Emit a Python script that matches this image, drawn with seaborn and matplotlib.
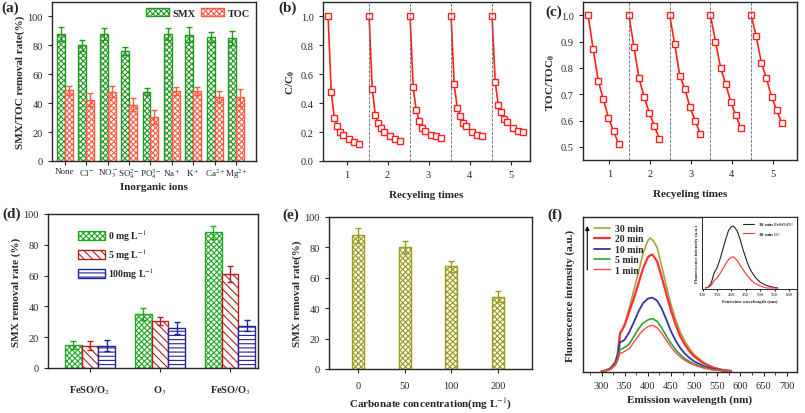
import numpy as np
import pandas as pd
import matplotlib
matplotlib.use("Agg")
import matplotlib.pyplot as plt
from matplotlib.container import BarContainer
import seaborn as sns

# (a) effect of inorganic ions
ions = ["None", "Cl$^-$", "NO$_3^-$", "SO$_4^{2-}$", "PO$_4^{3-}$",
        "Na$^+$", "K$^+$", "Ca$^{2+}$", "Mg$^{2+}$"]
smx_ions = [88, 80, 88, 76, 48, 88, 87.5, 85.5, 85]
smx_ions_err = [5, 4, 4, 3, 2.5, 4, 5.5, 3.5, 5]
toc_ions = [49, 42.5, 48, 39, 30.5, 48.5, 48.5, 44.5, 44]
toc_ions_err = [3, 4.5, 4, 4.5, 5, 3, 2.5, 4, 6]

# (b) SMX recycling, C/C0 vs time in each run
cycles = ["1", "2", "3", "4", "5"]
run_times = [0, 3, 6, 9, 12, 15, 20, 25, 30]
smx_runs = [
    [1.0, 0.48, 0.30, 0.24, 0.20, 0.18, 0.15, 0.13, 0.12],
    [1.0, 0.50, 0.32, 0.26, 0.23, 0.20, 0.17, 0.15, 0.14],
    [1.0, 0.51, 0.35, 0.28, 0.23, 0.21, 0.18, 0.17, 0.16],
    [1.0, 0.53, 0.37, 0.31, 0.26, 0.24, 0.20, 0.18, 0.17],
    [1.0, 0.55, 0.39, 0.34, 0.29, 0.27, 0.23, 0.21, 0.20],
]

# (c) TOC recycling
toc_steps = [0, 1, 2, 3, 4, 5, 6]
toc_runs = [
    [1.0, 0.87, 0.75, 0.68, 0.61, 0.56, 0.51],
    [1.0, 0.88, 0.76, 0.69, 0.63, 0.58, 0.53],
    [1.0, 0.89, 0.77, 0.72, 0.65, 0.60, 0.55],
    [1.0, 0.90, 0.80, 0.74, 0.67, 0.62, 0.57],
    [1.0, 0.92, 0.82, 0.76, 0.69, 0.64, 0.59],
]

# (d) scavenger dose in different systems
systems = ["FeSO/O$_2$", "O$_3$", "FeSO/O$_3$"]
doses = ["0 mg L$^{-1}$", "5 mg L$^{-1}$", "100mg L$^{-1}$"]
dose_rates = [[15, 35, 88], [14.5, 30.5, 61], [14.5, 26, 27.5]]
dose_errs = [[2.5, 4, 4], [3, 2.5, 5], [3.5, 4, 3.5]]

# (e) carbonate
carbonate = ["0", "50", "100", "200"]
carb_rates = [88, 80, 67.5, 47.5]
carb_errs = [5, 4, 3.5, 3.5]

# (f) fluorescence spectra
wavelength = [300, 310, 320, 330, 335, 340, 345, 350, 360, 370, 380, 390, 400, 405,
              410, 420, 430, 440, 450, 460, 470, 480, 490, 500, 520, 540, 560, 580]
fl_times = ["30 min", "20 min", "10 min", "5 min", "1 min"]
fl_30 = [0, 3, 10, 28, 50, 112, 125, 138, 190, 245, 300, 355, 392, 400,
         395, 372, 315, 255, 200, 155, 118, 90, 68, 50, 27, 13, 5, 1]
fl_20 = [0, 3, 10, 28, 52, 115, 125, 140, 180, 220, 265, 310, 342, 348,
         350, 330, 282, 232, 182, 140, 105, 80, 60, 45, 24, 11, 4, 1]
fl_10 = [0, 2, 8, 24, 48, 88, 90, 95, 118, 148, 180, 205, 218, 220,
         221, 212, 188, 155, 120, 92, 70, 53, 40, 30, 16, 7, 3, 0]
fl_5 = [0, 2, 7, 20, 38, 66, 68, 72, 82, 105, 128, 145, 154, 157,
        158, 150, 130, 106, 84, 65, 50, 38, 29, 22, 12, 5, 2, 0]
fl_1 = [0, 2, 6, 18, 33, 55, 56, 60, 68, 88, 108, 124, 134, 137,
        138, 131, 114, 93, 73, 56, 43, 33, 25, 19, 10, 4, 2, 0]
inset_wl = [310, 320, 330, 335, 340, 350, 360, 370, 380, 390, 400, 405, 410,
            420, 430, 440, 450, 460, 470, 480, 490, 500, 520, 540, 560]
inset_feso = [0, 3, 15, 30, 45, 60, 85, 115, 145, 172, 183, 185, 182,
              170, 145, 115, 88, 65, 48, 35, 25, 17, 8, 3, 0]
inset_o3 = [0, 2, 8, 15, 22, 30, 42, 57, 72, 85, 92, 93, 91,
            82, 68, 55, 42, 32, 22, 15, 10, 6, 0, 0, 0]

sns.set_style("ticks")
plt.rcParams["font.family"] = ["Liberation Serif", "DejaVu Serif"]
plt.rcParams["mathtext.fontset"] = "stix"
plt.rcParams["hatch.linewidth"] = 0.8
plt.rcParams["axes.linewidth"] = 1.0
plt.rcParams["xtick.labelsize"] = 7.5
plt.rcParams["ytick.labelsize"] = 7.5
plt.rcParams["xtick.major.size"] = 3
plt.rcParams["ytick.major.size"] = 3

W, H = 805, 414
fig = plt.figure(figsize=(W / 100, H / 100), dpi=100)


def add_px_axes(l, t, r, b):
    return fig.add_axes([l / W, 1 - b / H, (r - l) / W, (b - t) / H])


def style_bars(ax, colors, hatches, errs):
    bars = [c for c in ax.containers if isinstance(c, BarContainer)]
    for cont, col, hat, err in zip(bars, colors, hatches, errs):
        xs, ys = [], []
        for bar in cont:
            bar.set_facecolor("white")
            bar.set_edgecolor(col)
            bar.set_hatch(hat)
            bar.set_linewidth(1.0)
            xs.append(bar.get_x() + bar.get_width() / 2)
            ys.append(bar.get_height())
        ax.errorbar(xs, ys, yerr=err, fmt="none", ecolor=col, elinewidth=1,
                    capsize=2.5, capthick=1)
    return [c.patches[0] for c in bars]


bold = dict(fontsize=8, fontweight="bold")

# ---- (a)
ax = add_px_axes(52, 3, 256, 162)
df_a = pd.DataFrame({
    "ion": ions * 2,
    "rate": smx_ions + toc_ions,
    "kind": ["SMX"] * len(ions) + ["TOC"] * len(ions),
})
sns.barplot(data=df_a, x="ion", y="rate", hue="kind", order=ions,
            hue_order=["SMX", "TOC"], width=0.74, errorbar=None, legend=False, ax=ax)
handles = style_bars(ax, ["#1f9a1f", "#ff5a45"], ["xxxxxx", "xxxxxx"],
                     [smx_ions_err, toc_ions_err])
ax.legend(handles=handles, labels=["SMX", "TOC"],
          loc="upper right", ncol=2, frameon=False, handlelength=2.2, handleheight=0.8,
          handletextpad=0.3, columnspacing=0.6, borderaxespad=0.2,
          prop=dict(size=7.5, weight="bold"))
ax.set_xlim(-0.6, 8.93)
ax.set_ylim(0, 110)
ax.set_yticks([0, 20, 40, 60, 80, 100])
ax.tick_params(axis="x", labelsize=6.5, pad=1)
ax.set_xlabel("Inorganic ions", labelpad=1, **bold)
ax.set_ylabel("SMX/TOC removal rate(%)", labelpad=2, **bold)

# ---- (b)
ax = add_px_axes(323, 3, 530, 162)
df_b = pd.DataFrame([
    {"cycle": i, "x": i * 40 + t, "c": v}
    for i, run in enumerate(smx_runs) for t, v in zip(run_times, run)
])
sns.lineplot(data=df_b, x="x", y="c", units="cycle", estimator=None, color="#ff2020",
             lw=1.2, marker="s", markersize=4.2, markerfacecolor="white",
             markeredgecolor="#ff2020", markeredgewidth=1.0, ax=ax)
sns.scatterplot(data=df_b, x="x", y="c", color="#ff2020", s=1.5, linewidth=0, ax=ax)
for i in range(1, len(cycles)):
    ax.axvline(i * 40, color="#666666", ls="--", lw=0.6)
ax.set_xticks([i * 40 + 18 for i in range(len(cycles))], cycles)
ax.set_xlim(-5, 197)
ax.set_ylim(0, 1.1)
ax.set_yticks([0, 0.2, 0.4, 0.6, 0.8, 1.0], ["0.0", "0.2", "0.4", "0.6", "0.8", "1.0"])
ax.set_xlabel("Recyeling times", labelpad=8, **bold)
ax.set_ylabel(r"C/C$_\mathbf{0}$", labelpad=3, **bold)

# ---- (c)
ax = add_px_axes(583, 3, 797, 161)
df_c = pd.DataFrame([
    {"cycle": i, "x": i * 8 + s, "c": v}
    for i, run in enumerate(toc_runs) for s, v in zip(toc_steps, run)
])
sns.lineplot(data=df_c, x="x", y="c", units="cycle", estimator=None, color="#ff2020",
             lw=1.2, marker="s", markersize=4.2, markerfacecolor="white",
             markeredgecolor="#ff2020", markeredgewidth=1.0, ax=ax)
sns.scatterplot(data=df_c, x="x", y="c", color="#ff2020", s=1.5, linewidth=0, ax=ax)
for i in range(1, len(cycles)):
    ax.axvline(i * 8, color="#666666", ls="--", lw=0.6)
ax.set_xticks([i * 8 + 4.2 for i in range(len(cycles))], cycles)
ax.set_xlim(-1, 41)
ax.set_ylim(0.45, 1.05)
ax.set_yticks([0.5, 0.6, 0.7, 0.8, 0.9, 1.0])
ax.set_xlabel("Recyeling times", labelpad=8, **bold)
ax.set_ylabel(r"TOC/TOC$_\mathbf{0}$", labelpad=3, **bold)

# ---- (d)
ax = add_px_axes(48, 215, 258, 369)
df_d = pd.DataFrame([
    {"system": s, "dose": d, "rate": dose_rates[j][k]}
    for j, d in enumerate(doses) for k, s in enumerate(systems)
])
sns.barplot(data=df_d, x="system", y="rate", hue="dose", order=systems, hue_order=doses,
            width=0.72, errorbar=None, legend=False, ax=ax)
handles = style_bars(ax, ["#22a822", "#b41e1e", "#2323a0"],
                     ["xxxxxx", "\\\\\\\\", "----"], dose_errs)
ax.legend(handles=handles, labels=doses,
          loc="upper left", bbox_to_anchor=(0.1, 0.97), frameon=False,
          handlelength=2.8, handleheight=1.0, handletextpad=0.3, labelspacing=0.35,
          prop=dict(size=7, weight="bold"))
ax.set_xlim(-0.6, 2.4)
ax.set_ylim(0, 100)
ax.set_yticks([0, 20, 40, 60, 80, 100])
ax.tick_params(axis="x", pad=8)
for lab in ax.get_xticklabels():
    lab.set_fontweight("bold")
ax.set_xlabel("")
ax.set_ylabel("SMX removal rate (%)", labelpad=2, **bold)

# ---- (e)
ax = add_px_axes(329, 218, 532, 370)
df_e = pd.DataFrame({"carbonate": carbonate, "rate": carb_rates})
sns.barplot(data=df_e, x="carbonate", y="rate", order=carbonate, width=0.26,
            errorbar=None, ax=ax)
style_bars(ax, ["#9a9a1c"], ["xxxxxx"], [carb_errs])
ax.set_xlim(-0.62, 3.73)
ax.set_ylim(0, 100)
ax.set_yticks([0, 20, 40, 60, 80, 100])
ax.tick_params(axis="x", pad=6)
ax.set_xlabel("Carbonate concentration(mg L$^{-1}$)", labelpad=4, **bold)
ax.set_ylabel("SMX removal rate(%)", labelpad=2, **bold)

# ---- (f)
ax = add_px_axes(583, 218, 797, 373)
fl_series = [fl_30, fl_20, fl_10, fl_5, fl_1]
df_f = pd.DataFrame([
    {"wl": w, "I": v, "time": t}
    for t, ser in zip(fl_times, fl_series) for w, v in zip(wavelength, ser)
])
fl_colors = ["#a8a43c", "#ff3030", "#3434a4", "#2ea52e", "#ff4a4a"]
sns.lineplot(data=df_f, x="wl", y="I", hue="time", hue_order=fl_times,
             palette=fl_colors, legend=False, ax=ax)
for line, lw in zip(ax.lines, [1.2, 1.6, 1.3, 1.2, 1.0]):
    line.set_linewidth(lw)
ax.legend(handles=ax.lines[:5], labels=fl_times, loc="upper left",
          bbox_to_anchor=(0.035, 0.98), frameon=False, handlelength=1.6,
          handletextpad=0.5, labelspacing=0.15, borderaxespad=0,
          prop=dict(size=7, weight="bold"))
ax.annotate("", xy=(0.02, 0.96), xytext=(0.02, 0.64), xycoords="axes fraction",
            arrowprops=dict(arrowstyle="-|>", color="black", lw=0.8, mutation_scale=6))
ax.set_xlim(260, 722)
ax.set_ylim(-2, 463)
ax.set_xticks([300, 350, 400, 450, 500, 550, 600, 650, 700])
ax.set_xticks(np.arange(275, 725, 50), minor=True)
ax.tick_params(axis="x", which="minor", length=2)
ax.set_yticks([])
ax.set_xlabel("Emission wavelength (nm)", labelpad=3, **bold)
ax.set_ylabel("Fluorescence intensity (a.u.)", labelpad=6, **bold)

# inset
axi = add_px_axes(702, 218, 797, 290)
df_i = pd.DataFrame({
    "wl": inset_wl * 2,
    "I": inset_feso + inset_o3,
    "kind": ["30 min FeSO/O$_3$"] * len(inset_wl) + ["30 min O$_3$"] * len(inset_wl),
})
sns.lineplot(data=df_i, x="wl", y="I", hue="kind", palette=["#222222", "#ff3030"],
             lw=0.8, legend=False, ax=axi)
axi.legend(handles=axi.lines[:2], labels=["30 min FeSO/O$_3$", "30 min O$_3$"],
           loc="upper right", frameon=False, handlelength=2.2, labelspacing=0.4,
           borderaxespad=0.3, prop=dict(size=3.5, weight="bold"))
axi.set_xlim(298, 627)
axi.set_ylim(-3, 212)
axi.set_xticks([300, 350, 400, 450, 500, 550, 600])
axi.set_yticks([])
axi.tick_params(axis="x", labelsize=3.5, length=1.5, pad=1)
for s in axi.spines.values():
    s.set_linewidth(0.7)
axi.set_xlabel("Emission wavelength (nm)", fontsize=3.5, fontweight="bold", labelpad=2)
axi.set_ylabel("Fluorescence intensity (a.u.)", fontsize=3.5, fontweight="bold", labelpad=2)

# panel tags
for tag, x, y in [("(a)", 1, 8), ("(b)", 278, 8), ("(c)", 545, 12),
                  ("(d)", 2, 214), ("(e)", 282, 215), ("(f)", 547, 215)]:
    fig.text(x / W, 1 - y / H, tag, fontsize=11, fontweight="bold", va="center", ha="left")

fig.savefig("out.png", dpi=100)
